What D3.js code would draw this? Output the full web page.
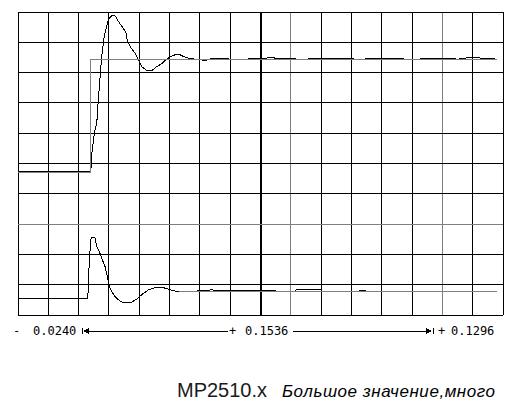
<!DOCTYPE html>
<html>
<head>
<meta charset="utf-8">
<script src="https://cdn.jsdelivr.net/npm/d3@7"></script>
<style>
  body { margin: 0; background: #fff; }
  svg { display: block; }
</style>
</head>
<body>
<svg id="chart" width="528" height="406"></svg>
<script>
var cols = 16, rows = 10;
var grayCols = [9, 14];   // cursor lines
var grayRows = [3];
var thickCols = [8];

// channel 1 - reference step
var stepTop = [[0, 4.70], [2.38, 4.70], [2.38, 8.43], [15.8, 8.43]];
// channel 1 - response (8.47 = trace just above the step, 8.43 = on it)
var respTop = [
  [0, 4.73], [2.40, 4.73], [2.44, 5.36], [2.52, 6.02], [2.60, 6.35], [2.65, 7.11],
  [2.71, 7.86], [2.76, 8.52], [2.84, 9.18], [2.90, 9.42], [2.98, 9.75], [3.09, 9.88],
  [3.20, 9.88], [3.31, 9.69], [3.47, 9.47], [3.56, 9.32], [3.61, 9.03], [3.73, 8.81],
  [3.86, 8.65], [3.97, 8.43], [4.08, 8.20], [4.25, 8.07], [4.41, 8.06], [4.58, 8.20],
  [4.74, 8.29], [4.85, 8.40], [5.01, 8.51], [5.18, 8.59], [5.34, 8.59], [5.51, 8.51],
  [5.67, 8.46], [6.00, 8.43], [6.17, 8.40], [6.43, 8.47], [6.93, 8.47], [6.96, 8.43],
  [7.58, 8.43], [7.60, 8.47], [8.20, 8.47], [8.25, 8.50], [8.45, 8.50], [8.48, 8.47],
  [9.15, 8.47], [9.17, 8.43], [9.56, 8.43], [9.58, 8.47], [11.08, 8.47], [11.10, 8.43],
  [11.44, 8.43], [11.46, 8.47], [12.70, 8.47], [12.72, 8.43], [13.26, 8.43], [13.28, 8.47],
  [14.40, 8.47], [14.50, 8.43], [14.60, 8.47], [14.75, 8.47], [14.85, 8.50], [15.20, 8.50],
  [15.25, 8.47], [15.70, 8.47], [15.72, 8.43], [15.8, 8.43]
];
// channel 2 - reference level
var stepBottom = [[5.3, 0.76], [15.8, 0.76]];
// channel 2 - response
var respBottom = [
  [0, 0.54], [2.30, 0.54], [2.32, 0.94], [2.35, 1.73], [2.40, 2.49], [2.44, 2.57],
  [2.54, 2.54], [2.60, 2.26], [2.68, 2.10], [2.76, 1.88], [2.87, 1.60], [2.95, 1.27],
  [3.01, 0.94], [3.09, 0.78], [3.20, 0.61], [3.37, 0.45], [3.53, 0.40], [3.75, 0.42],
  [3.92, 0.53], [4.08, 0.67], [4.30, 0.83], [4.58, 0.92], [4.74, 0.92], [4.90, 0.87],
  [5.12, 0.80], [5.40, 0.76], [5.67, 0.77], [6.00, 0.80], [6.39, 0.83], [6.66, 0.80],
  [7.10, 0.81], [7.93, 0.80], [8.51, 0.80], [8.55, 0.76], [9.15, 0.76], [9.17, 0.83],
  [10.0, 0.83], [10.05, 0.76], [11.2, 0.76], [11.25, 0.80], [11.45, 0.80], [11.5, 0.76]
];

var cursorText = ["- ", "0.0240", "+ ", "0.1536", "+ ", "0.1296"];
var captionMain = "MP2510.x";
var captionSub = "Большое значение,много";

var svg = d3.select("#chart");
var x = d3.scaleLinear().domain([0, cols]).range([18, 503]);
var y = d3.scaleLinear().domain([0, rows]).range([315, 12]);

// grid
var grid = svg.append("g").attr("shape-rendering", "crispEdges");
grid.selectAll("line.v")
    .data(d3.range(cols + 1))
  .enter().append("line")
    .attr("class", "v")
    .attr("x1", function(d) { return x(d); })
    .attr("x2", function(d) { return x(d); })
    .attr("y1", y(0)).attr("y2", y(rows))
    .attr("stroke", function(d) { return grayCols.indexOf(d) >= 0 ? "#808080" : "#000"; })
    .attr("stroke-width", function(d) { return thickCols.indexOf(d) >= 0 ? 2 : 1; });
grid.selectAll("line.h")
    .data(d3.range(rows + 1))
  .enter().append("line")
    .attr("class", "h")
    .attr("x1", x(0)).attr("x2", x(cols))
    .attr("y1", function(d) { return y(d); })
    .attr("y2", function(d) { return y(d); })
    .attr("stroke", function(d) { return grayRows.indexOf(d) >= 0 ? "#808080" : "#000"; })
    .attr("stroke-width", 1);

var line = d3.line()
    .x(function(d) { return x(d[0]); })
    .y(function(d) { return y(d[1]); });

// responses first, the gray reference lines are drawn over them
var traces = svg.append("g").attr("fill", "none").attr("shape-rendering", "crispEdges");
traces.append("path").attr("d", line(respTop)).attr("stroke", "#000").attr("stroke-width", 1);
traces.append("path").attr("d", line(respBottom)).attr("stroke", "#000").attr("stroke-width", 1);
traces.append("path").attr("d", line(stepTop)).attr("stroke", "#808080").attr("stroke-width", 1);
traces.append("path").attr("d", line(stepBottom)).attr("stroke", "#808080").attr("stroke-width", 1);

// cursor readout under the screen
var ay = 331;
var ann = svg.append("g")
    .attr("font-family", "DejaVu Sans Mono, monospace")
    .attr("font-size", "12px")
    .attr("fill", "#000");
var textX = [13, 33, 229, 245, 438, 451];
ann.selectAll("text")
    .data(cursorText)
  .enter().append("text")
    .attr("x", function(d, i) { return textX[i]; })
    .attr("y", ay + 4)
    .attr("xml:space", "preserve")
    .text(function(d) { return d; });

var arr = svg.append("g").attr("shape-rendering", "crispEdges");
// left marker |<---
arr.append("line").attr("x1", 82).attr("x2", 82).attr("y1", ay - 3).attr("y2", ay + 3).attr("stroke", "#000");
arr.append("path").attr("d", "M83," + ay + "L89," + (ay - 3) + "L89," + (ay + 3) + "Z").attr("fill", "#000");
arr.append("line").attr("x1", 88).attr("x2", 228).attr("y1", ay + 0.5).attr("y2", ay + 0.5).attr("stroke", "#000");
// right marker --->|
arr.append("line").attr("x1", 293).attr("x2", 428).attr("y1", ay + 0.5).attr("y2", ay + 0.5).attr("stroke", "#000");
arr.append("path").attr("d", "M432," + ay + "L426," + (ay - 3) + "L426," + (ay + 3) + "Z").attr("fill", "#000");
arr.append("line").attr("x1", 433.5).attr("x2", 433.5).attr("y1", ay - 3).attr("y2", ay + 3).attr("stroke", "#000");

// caption
svg.append("text")
    .attr("x", 177).attr("y", 397)
    .attr("font-family", "Liberation Sans, Arial, sans-serif")
    .attr("font-size", "20px")
    .attr("fill", "#1a1a1a")
    .text(captionMain);
svg.append("text")
    .attr("x", 282).attr("y", 397)
    .attr("font-family", "Liberation Sans, Arial, sans-serif")
    .attr("font-size", "17px")
    .attr("font-style", "italic")
    .attr("textLength", 213)
    .attr("lengthAdjust", "spacing")
    .attr("fill", "#000")
    .text(captionSub);
</script>
</body>
</html>
